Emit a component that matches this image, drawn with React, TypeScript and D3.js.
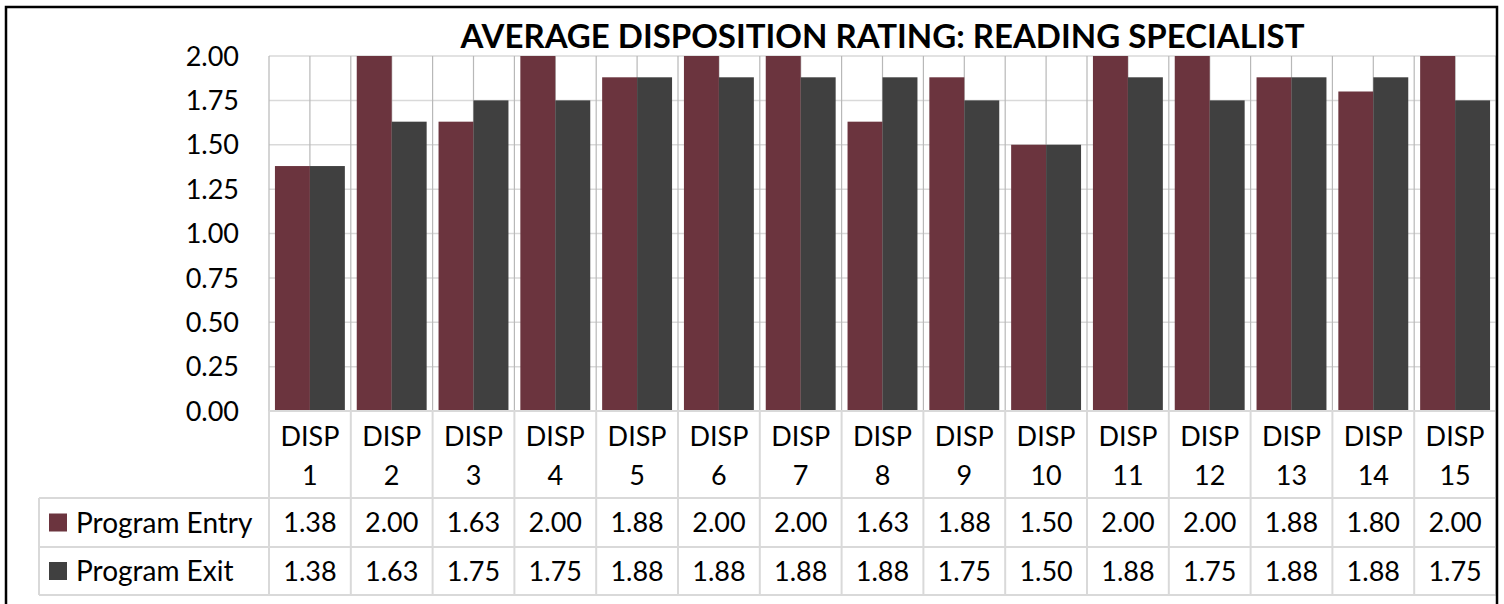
import * as d3 from "d3";
import React, { useEffect, useRef } from "react";

// Chart data
const categories = [
  "DISP 1", "DISP 2", "DISP 3", "DISP 4", "DISP 5", "DISP 6", "DISP 7", "DISP 8",
  "DISP 9", "DISP 10", "DISP 11", "DISP 12", "DISP 13", "DISP 14", "DISP 15",
];
const programEntry = [1.38, 2.0, 1.63, 2.0, 1.88, 2.0, 2.0, 1.63, 1.88, 1.5, 2.0, 2.0, 1.88, 1.8, 2.0];
const programExit = [1.38, 1.63, 1.75, 1.75, 1.88, 1.88, 1.88, 1.88, 1.75, 1.5, 1.88, 1.75, 1.88, 1.88, 1.75];
const seriesNames = ["Program Entry", "Program Exit"];
const yTicks = [0, 0.25, 0.5, 0.75, 1.0, 1.25, 1.5, 1.75, 2.0];

const colors = ["#6b343e", "#404040"];
const font = "Lato, 'Open Sans', sans-serif";

const App: React.FC = () => {
  const ref = useRef<SVGSVGElement>(null);

  useEffect(() => {
    const width = 1504;
    const height = 604;
    const plot = { left: 269, right: 1496, top: 56, bottom: 411 };
    const table = { left: 39, catBottom: 498, row1: 547, bottom: 595 };

    d3.select(ref.current).selectAll("*").remove();
    const svg = d3.select(ref.current).attr("width", width).attr("height", height);

    svg.append("rect").attr("width", width).attr("height", height).attr("fill", "#fff");

    const x = d3.scaleBand().domain(categories).range([plot.left, plot.right]);
    const xs = d3.scaleBand().domain(seriesNames).range([0, x.bandwidth()]).paddingOuter(0.17);
    const y = d3.scaleLinear().domain([0, 2]).range([plot.bottom, plot.top]);

    // Horizontal gridlines
    svg.append("g")
      .selectAll("line")
      .data(yTicks)
      .join("line")
      .attr("x1", plot.left)
      .attr("x2", plot.right)
      .attr("y1", (d) => y(d))
      .attr("y2", (d) => y(d))
      .attr("stroke", "#d9d9d9")
      .attr("stroke-width", 1.5);

    // Vertical gridlines at category centres
    svg.append("g")
      .selectAll("line")
      .data(categories)
      .join("line")
      .attr("x1", (d) => x(d)! + x.bandwidth() / 2)
      .attr("x2", (d) => x(d)! + x.bandwidth() / 2)
      .attr("y1", plot.top)
      .attr("y2", plot.bottom)
      .attr("stroke", "#b8b8b8")
      .attr("stroke-width", 1.2);

    // Bars
    const seriesData = [programEntry, programExit];
    seriesData.forEach((values, si) => {
      svg.append("g")
        .selectAll("rect")
        .data(values)
        .join("rect")
        .attr("x", (_, i) => x(categories[i])! + xs(seriesNames[si])!)
        .attr("y", (d) => y(d))
        .attr("width", xs.bandwidth())
        .attr("height", (d) => plot.bottom - y(d))
        .attr("fill", colors[si]);
    });

    // Category boundary lines (plot part, darker)
    const bounds = categories.map((c) => x(c)!).concat([plot.right]);
    svg.append("g")
      .selectAll("line")
      .data(bounds)
      .join("line")
      .attr("x1", (d) => d)
      .attr("x2", (d) => d)
      .attr("y1", plot.top)
      .attr("y2", plot.bottom)
      .attr("stroke", "#b8b8b8")
      .attr("stroke-width", 1.2);

    // Data table lines
    const tbl = svg.append("g").attr("stroke", "#d9d9d9").attr("stroke-width", 2);
    tbl.selectAll("line.v")
      .data(bounds)
      .join("line")
      .attr("class", "v")
      .attr("x1", (d) => d)
      .attr("x2", (d) => d)
      .attr("y1", plot.bottom)
      .attr("y2", table.bottom);
    tbl.append("line").attr("x1", plot.left).attr("x2", plot.right).attr("y1", plot.bottom).attr("y2", plot.bottom);
    [table.catBottom, table.row1, table.bottom].forEach((yy) => {
      tbl.append("line").attr("x1", table.left).attr("x2", plot.right).attr("y1", yy).attr("y2", yy);
    });
    tbl.append("line").attr("x1", table.left).attr("x2", table.left).attr("y1", table.catBottom).attr("y2", table.bottom);

    // Y-axis labels
    svg.append("g")
      .selectAll("text")
      .data(yTicks)
      .join("text")
      .attr("x", 239)
      .attr("y", (d) => y(d))
      .attr("dy", "0.36em")
      .attr("text-anchor", "end")
      .style("font-family", font)
      .style("font-size", "27px")
      .text((d) => d.toFixed(2));

    // Category labels (two lines)
    const catText = svg.append("g")
      .selectAll("text")
      .data(categories)
      .join("text")
      .attr("text-anchor", "middle")
      .style("font-family", font)
      .style("font-size", "27px");
    catText.append("tspan")
      .attr("x", (d) => x(d)! + x.bandwidth() / 2)
      .attr("y", 446)
      .text((d) => d.split(" ")[0]);
    catText.append("tspan")
      .attr("x", (d) => x(d)! + x.bandwidth() / 2)
      .attr("y", 485)
      .text((d) => d.split(" ")[1]);

    // Table rows
    const rowCenters = [(table.catBottom + table.row1) / 2, (table.row1 + table.bottom) / 2];
    seriesData.forEach((values, si) => {
      const cy = rowCenters[si];
      svg.append("rect")
        .attr("x", 49)
        .attr("y", cy - 9)
        .attr("width", 18)
        .attr("height", 18)
        .attr("fill", colors[si]);
      svg.append("text")
        .attr("x", 76)
        .attr("y", cy)
        .attr("dy", "0.36em")
        .style("font-family", font)
        .style("font-size", "28px")
        .text(seriesNames[si]);
      svg.append("g")
        .selectAll("text")
        .data(values)
        .join("text")
        .attr("x", (_, i) => x(categories[i])! + x.bandwidth() / 2)
        .attr("y", cy)
        .attr("dy", "0.36em")
        .attr("text-anchor", "middle")
        .style("font-family", font)
        .style("font-size", "27px")
        .text((d) => d.toFixed(2));
    });

    // Title
    svg.append("text")
      .attr("x", (plot.left + plot.right) / 2)
      .attr("y", 48)
      .attr("text-anchor", "middle")
      .style("font-family", font)
      .style("font-size", "33px")
      .style("font-weight", "bold")
      .text("AVERAGE DISPOSITION RATING: READING SPECIALIST");

    // Chart border
    svg.append("rect")
      .attr("x", 6)
      .attr("y", 7)
      .attr("width", 1491)
      .attr("height", 620)
      .attr("fill", "none")
      .attr("stroke", "#000")
      .attr("stroke-width", 2.5);
  }, []);

  return <svg ref={ref} style={{ position: "absolute", left: 0, top: 0 }}></svg>;
};

export default App;
